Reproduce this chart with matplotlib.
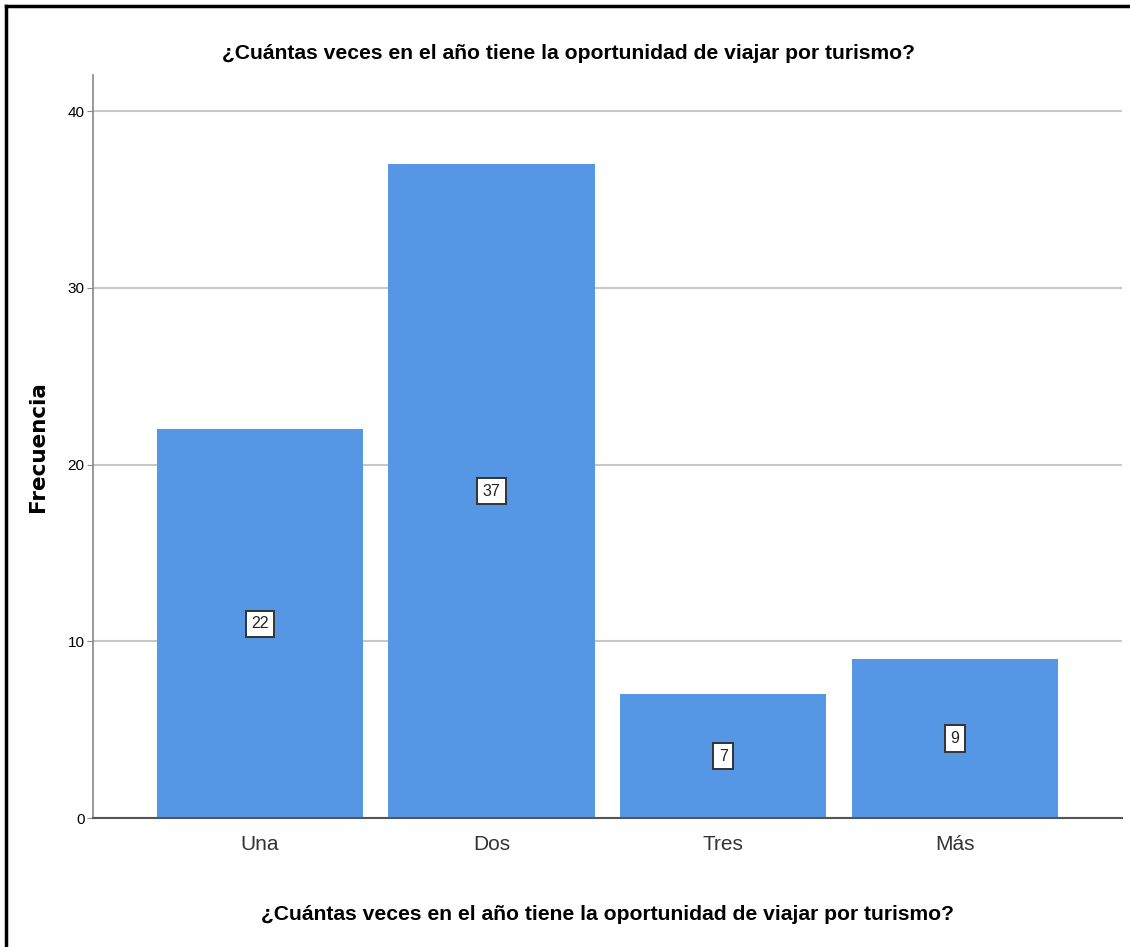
import matplotlib.pyplot as plt
from matplotlib.lines import Line2D

categorias = ['Una', 'Dos', 'Tres', 'Más']
frecuencias = [22, 37, 7, 9]
ticks_y = [0, 10, 20, 30, 40]
titulo = '¿Cuántas veces en el año tiene la oportunidad de viajar por turismo?'

plt.rcParams['font.family'] = ['Liberation Sans', 'DejaVu Sans']

fig = plt.figure(figsize=(11.3, 9.47), dpi=100)
ax = fig.add_axes([0.0823, 0.1362, 0.9106, 0.7846])

x = range(len(categorias))
barras = ax.bar(x, frecuencias, width=0.89, color='#5596e5', zorder=2)

# etiquetas con el valor en medio de cada barra
for xi, v in zip(x, frecuencias):
    ax.text(xi, v / 2, str(v), ha='center', va='center', fontsize=11.5,
            color='#222222', zorder=3,
            bbox=dict(boxstyle='square,pad=0.35', fc='white', ec='#333333', lw=1.4))

ax.set_xlim(-0.72, 3.72)
ax.set_ylim(0, 42.04)
ax.set_yticks(ticks_y)
ax.set_xticks(list(x))
ax.set_xticklabels(categorias, fontsize=15, color='#333333')
ax.tick_params(axis='y', labelsize=11, length=4, color='#888888', pad=2)
ax.tick_params(axis='x', length=0, pad=12)

ax.grid(axis='y', color='#c8c8c8', lw=1.5, zorder=1)
ax.set_axisbelow(True)
for s in ['top', 'right']:
    ax.spines[s].set_visible(False)
ax.spines['left'].set_color('#888888')
ax.spines['left'].set_linewidth(1.2)
ax.spines['bottom'].set_color('#555555')
ax.spines['bottom'].set_linewidth(1.5)

ax.set_ylabel('Frecuencia', fontsize=15.5, fontweight='bold',
              family=['DejaVu Sans'])
ax.yaxis.set_label_coords(-0.044, 0.5)
ax.set_xlabel(titulo, fontsize=15.2, fontweight='bold')
ax.xaxis.set_label_coords(0.5, -0.117)
fig.text(0.503, 0.943, titulo, ha='center', va='center', fontsize=15.2,
         fontweight='bold')

# marco exterior
fig.add_artist(Line2D([0.0053, 0.0053], [0, 0.9937], color='black', lw=2.5))
fig.add_artist(Line2D([0.0053, 0.999], [0.9937, 0.9937], color='black', lw=2.5))

fig.savefig('out.png', dpi=100)
